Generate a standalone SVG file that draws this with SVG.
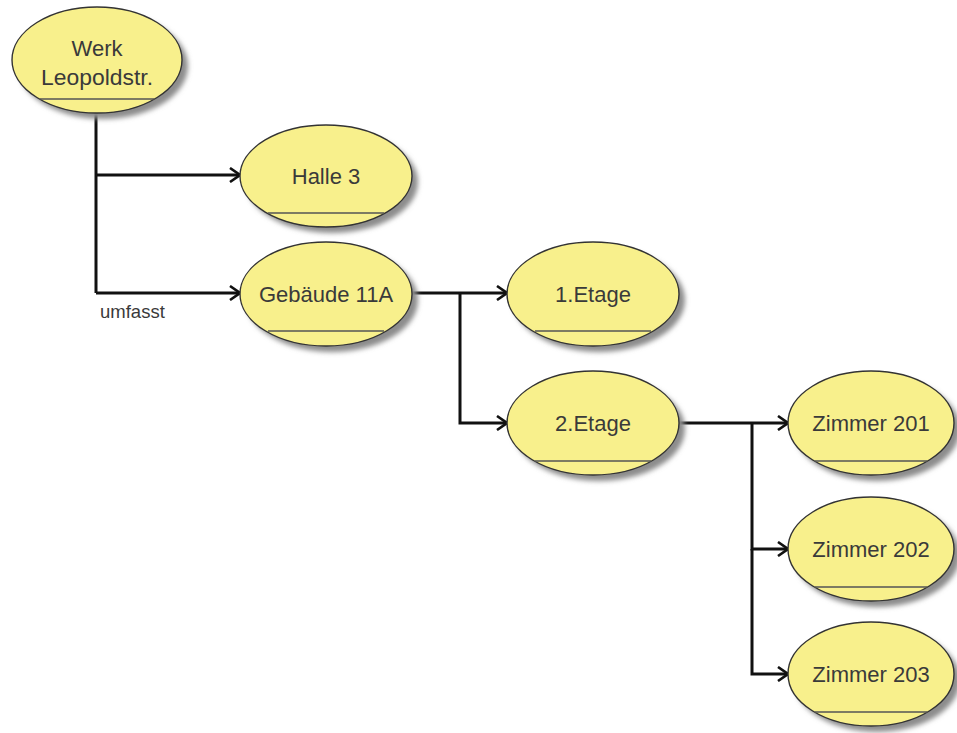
<svg xmlns="http://www.w3.org/2000/svg" width="957" height="733" viewBox="0 0 957 733">
  <defs>
    <filter id="soft" x="-20%" y="-20%" width="140%" height="140%">
      <feGaussianBlur stdDeviation="2.5"/>
    </filter>
    <marker id="chev" viewBox="0 0 12 16" refX="11" refY="8" markerWidth="12" markerHeight="16" markerUnits="userSpaceOnUse" orient="auto">
      <path d="M1,1 L11,8 L1,15" fill="none" stroke="#111" stroke-width="2.6" stroke-linejoin="miter"/>
    </marker>
  </defs>
  <style>
    .shadow { fill: #8c8c8c; filter: url(#soft); }
    .body { fill: #f8f08c; stroke: #333; stroke-width: 1.4; }
    .rule { stroke: #555; stroke-width: 1.3; }
    .lbl { font-family: "Liberation Sans", Arial, sans-serif; font-size: 22px; fill: #3a3a3a; text-anchor: middle; }
    .edge { fill: none; stroke: #111; stroke-width: 3; }
    .arrow { marker-end: url(#chev); }
    .note { font-family: "Liberation Sans", Arial, sans-serif; font-size: 18.5px; fill: #3a3a3a; }
  </style>
  <rect width="957" height="733" fill="#fff"/>

  <g id="connectors">
    <path class="edge" d="M96,113 V293"/>
    <path class="edge arrow" d="M96,175 H240"/>
    <path class="edge arrow" d="M96,293 H240"/>
    <path class="edge arrow" d="M412,293 H507"/>
    <path class="edge arrow" d="M460,293 V423 H507"/>
    <path class="edge arrow" d="M679,423 H788"/>
    <path class="edge arrow" d="M752,423 V549 H788"/>
    <path class="edge arrow" d="M752,549 V674 H788"/>
    <text class="note" x="100" y="318">umfasst</text>
  </g>

  <g id="werk">
    <ellipse class="shadow" cx="103" cy="66" rx="85" ry="53"/>
    <ellipse class="body" cx="97" cy="60" rx="85" ry="53"/>
    <line class="rule" x1="40" y1="99" x2="154" y2="99"/>
    <text class="lbl" x="97" y="56">Werk</text>
    <text class="lbl" x="97" y="85" textLength="112" lengthAdjust="spacingAndGlyphs">Leopoldstr.</text>
  </g>

  <g id="halle3">
    <ellipse class="shadow" cx="332" cy="182" rx="86" ry="51"/>
    <ellipse class="body" cx="326" cy="176" rx="86" ry="51"/>
    <line class="rule" x1="268" y1="213" x2="384" y2="213"/>
    <text class="lbl" x="326" y="184">Halle 3</text>
  </g>

  <g id="gebaeude11a">
    <ellipse class="shadow" cx="332" cy="300" rx="86" ry="52"/>
    <ellipse class="body" cx="326" cy="294" rx="86" ry="52"/>
    <line class="rule" x1="268" y1="331" x2="384" y2="331"/>
    <text class="lbl" x="326" y="302">Gebäude 11A</text>
  </g>

  <g id="etage1">
    <ellipse class="shadow" cx="599" cy="300" rx="86" ry="52"/>
    <ellipse class="body" cx="593" cy="294" rx="86" ry="52"/>
    <line class="rule" x1="535" y1="331" x2="651" y2="331"/>
    <text class="lbl" x="593" y="302">1.Etage</text>
  </g>

  <g id="etage2">
    <ellipse class="shadow" cx="599" cy="429" rx="86" ry="52"/>
    <ellipse class="body" cx="593" cy="423" rx="86" ry="52"/>
    <line class="rule" x1="535" y1="461" x2="651" y2="461"/>
    <text class="lbl" x="593" y="431">2.Etage</text>
  </g>

  <g id="zimmer201">
    <ellipse class="shadow" cx="877" cy="429" rx="83" ry="52"/>
    <ellipse class="body" cx="871" cy="423" rx="83" ry="52"/>
    <line class="rule" x1="815" y1="461" x2="927" y2="461"/>
    <text class="lbl" x="871" y="431">Zimmer 201</text>
  </g>

  <g id="zimmer202">
    <ellipse class="shadow" cx="877" cy="555" rx="83" ry="52"/>
    <ellipse class="body" cx="871" cy="549" rx="83" ry="52"/>
    <line class="rule" x1="815" y1="587" x2="927" y2="587"/>
    <text class="lbl" x="871" y="557">Zimmer 202</text>
  </g>

  <g id="zimmer203">
    <ellipse class="shadow" cx="877" cy="680" rx="83" ry="52"/>
    <ellipse class="body" cx="871" cy="674" rx="83" ry="52"/>
    <line class="rule" x1="815" y1="712" x2="927" y2="712"/>
    <text class="lbl" x="871" y="682">Zimmer 203</text>
  </g>
</svg>
